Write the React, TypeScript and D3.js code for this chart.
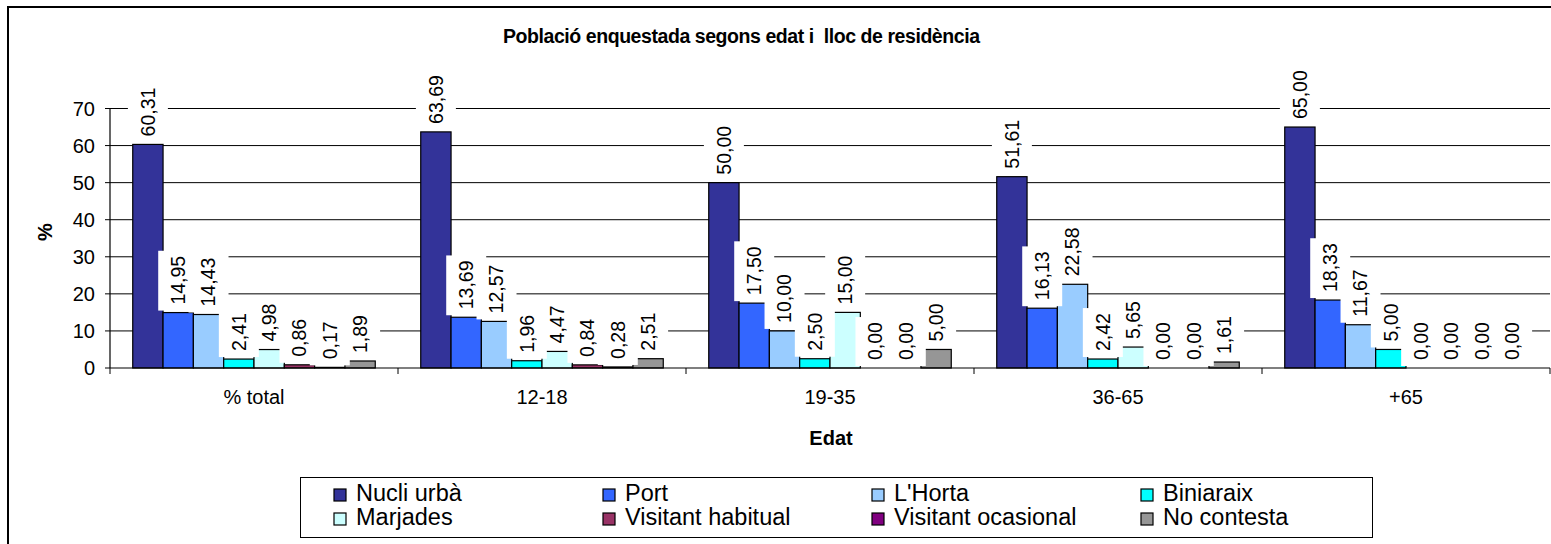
import React, { useRef, useEffect } from "react"
import * as d3 from "d3"

const categories = ["% total", "12-18", "19-35", "36-65", "+65"]
const seriesNames = [
  "Nucli urbà",
  "Port",
  "L'Horta",
  "Biniaraix",
  "Marjades",
  "Visitant habitual",
  "Visitant ocasional",
  "No contesta",
]
const colors = [
  "#333399",
  "#3366FF",
  "#99CCFF",
  "#00FFFF",
  "#CCFFFF",
  "#993366",
  "#800080",
  "#969696",
]
// one row per category, one value per series
const values = [
  [60.31, 14.95, 14.43, 2.41, 4.98, 0.86, 0.17, 1.89],
  [63.69, 13.69, 12.57, 1.96, 4.47, 0.84, 0.28, 2.51],
  [50.0, 17.5, 10.0, 2.5, 15.0, 0.0, 0.0, 5.0],
  [51.61, 16.13, 22.58, 2.42, 5.65, 0.0, 0.0, 1.61],
  [65.0, 18.33, 11.67, 5.0, 0.0, 0.0, 0.0, 0.0],
]
const yTicks = [0, 10, 20, 30, 40, 50, 60, 70]

const font = "'Liberation Sans', Arial, sans-serif"

function App() {
  const ref = useRef(null)

  useEffect(() => {
    const svg = d3.select(ref.current)
    svg.selectAll("*").remove()

    const left = 110,
      right = 1550,
      top = 108.5,
      bottom = 368

    const x0 = d3.scaleBand().domain(categories).range([left, right])
    const x1 = d3
      .scaleBand()
      .domain(d3.range(seriesNames.length))
      .range([0, x0.bandwidth()])
      .paddingOuter(0.75)
    const y = d3.scaleLinear().domain([0, 70]).range([bottom, top])

    // outer frame
    svg
      .append("rect")
      .attr("x", 8)
      .attr("y", 7)
      .attr("width", 1620)
      .attr("height", 600)
      .attr("fill", "none")
      .attr("stroke", "#000")
      .attr("stroke-width", 2)

    svg
      .append("text")
      .attr("x", 503)
      .attr("y", 43)
      .attr("textLength", 477)
      .attr("lengthAdjust", "spacing")
      .style("font", `bold 19.5px ${font}`)
      .attr("xml:space", "preserve")
      .text("Població enquestada segons edat i  lloc de residència")

    // gridlines + y ticks
    const gy = svg.append("g")
    yTicks.forEach(t => {
      if (t > 0) {
        gy.append("line")
          .attr("x1", left)
          .attr("x2", right)
          .attr("y1", y(t))
          .attr("y2", y(t))
          .attr("stroke", "#000")
      }
      gy.append("line")
        .attr("x1", left - 5)
        .attr("x2", left)
        .attr("y1", y(t))
        .attr("y2", y(t))
        .attr("stroke", "#000")
      gy.append("text")
        .attr("x", left - 15)
        .attr("y", y(t))
        .attr("dy", "0.35em")
        .attr("text-anchor", "end")
        .style("font", `20px ${font}`)
        .text(t)
    })

    // bars
    const groups = svg
      .append("g")
      .selectAll("g")
      .data(values)
      .join("g")
      .attr("transform", (d, i) => `translate(${x0(categories[i])},0)`)

    groups
      .selectAll("rect")
      .data(d => d)
      .join("rect")
      .attr("x", (d, j) => x1(j))
      .attr("y", d => y(d))
      .attr("width", x1.bandwidth())
      .attr("height", d => bottom - y(d))
      .attr("fill", (d, j) => colors[j])
      .attr("stroke", "#000")
      .attr("stroke-width", 1.2)

    // axes lines
    svg
      .append("line")
      .attr("x1", left)
      .attr("x2", left)
      .attr("y1", top)
      .attr("y2", bottom)
      .attr("stroke", "#000")
      .attr("stroke-width", 1.2)
    svg
      .append("line")
      .attr("x1", left)
      .attr("x2", right)
      .attr("y1", bottom)
      .attr("y2", bottom)
      .attr("stroke", "#000")
      .attr("stroke-width", 1.2)
    d3.range(categories.length + 1).forEach(i => {
      const xx = left + i * x0.bandwidth()
      svg
        .append("line")
        .attr("x1", xx)
        .attr("x2", xx)
        .attr("y1", bottom)
        .attr("y2", bottom + 6)
        .attr("stroke", "#000")
    })

    // data labels with white boxes
    const labels = svg.append("g")
    values.forEach((row, i) => {
      row.forEach((v, j) => {
        const cx = x0(categories[i]) + x1(j) + x1.bandwidth() / 2
        const yb = y(v)
        const g = labels.append("g")
        const box = g.append("rect").attr("fill", "#fff")
        const txt = g
          .append("text")
          .attr("transform", `translate(${cx},${yb - 8}) rotate(-90)`)
          .attr("dy", "0.35em")
          .style("font", `19.5px ${font}`)
          .text(v.toFixed(2).replace(".", ","))
        const len = txt.node().getComputedTextLength()
        box
          .attr("x", cx - 20)
          .attr("width", 40)
          .attr("y", yb - 8 - len - 5)
          .attr("height", len + 11)
      })
    })

    // category labels
    categories.forEach(c => {
      svg
        .append("text")
        .attr("x", x0(c) + x0.bandwidth() / 2)
        .attr("y", 404)
        .attr("text-anchor", "middle")
        .style("font", `20px ${font}`)
        .text(c)
    })

    svg
      .append("text")
      .attr("x", 831)
      .attr("y", 445)
      .attr("text-anchor", "middle")
      .style("font", `bold 20px ${font}`)
      .text("Edat")
    svg
      .append("text")
      .attr("transform", "translate(45,232) rotate(-90)")
      .attr("dy", "0.35em")
      .attr("text-anchor", "middle")
      .style("font", `bold 20px ${font}`)
      .text("%")

    // legend
    const lg = svg.append("g")
    lg.append("rect")
      .attr("x", 300.5)
      .attr("y", 477.5)
      .attr("width", 1072)
      .attr("height", 60)
      .attr("fill", "#fff")
      .attr("stroke", "#000")
    seriesNames.forEach((name, k) => {
      const col = k % 4
      const row = Math.floor(k / 4)
      const lx = 334 + col * 269
      const ly = 489 + row * 24
      lg.append("rect")
        .attr("x", lx)
        .attr("y", ly)
        .attr("width", 12)
        .attr("height", 12)
        .attr("fill", colors[k])
        .attr("stroke", "#000")
        .attr("stroke-width", 1.2)
      lg.append("text")
        .attr("x", lx + 22)
        .attr("y", ly + 12)
        .style("font", `23.5px ${font}`)
        .text(name)
    })
  }, [])

  return (
    <svg
      ref={ref}
      width={1551}
      height={544}
      style={{ position: "absolute", left: 0, top: 0, background: "#fff" }}
    />
  )
}

export default App
